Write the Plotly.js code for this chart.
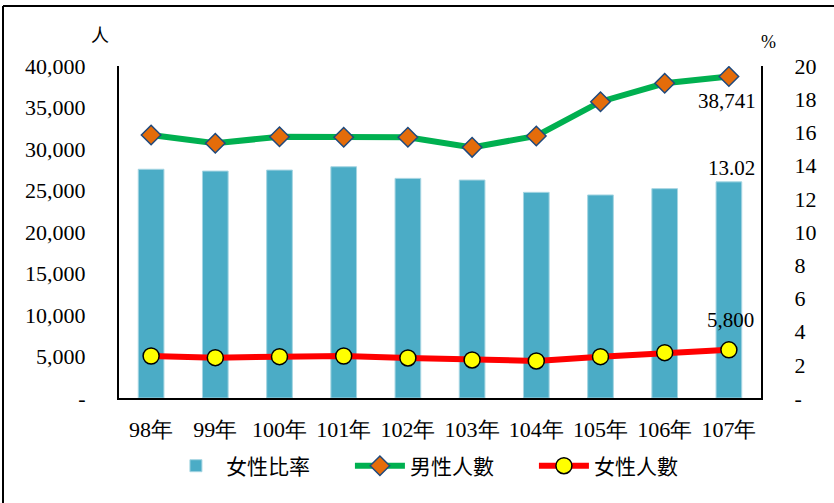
<!DOCTYPE html>
<html>
<head>
<meta charset="utf-8">
<script src="https://cdn.plot.ly/plotly-3.0.1.min.js"></script>
<style>html,body{margin:0;padding:0;background:#fff;}#chart{width:834px;height:503px;}</style>
</head>
<body>
<div id="chart"></div>
<script>
const years = ["98年","99年","100年","101年","102年","103年","104年","105年","106年","107年"];
const femaleRatio = [13.78, 13.67, 13.73, 13.93, 13.23, 13.13, 12.39, 12.23, 12.61, 13.02];
const maleCount = [31690, 30690, 31480, 31410, 31410, 30200, 31570, 35700, 37920, 38741];
const femaleCount = [5060, 4860, 4980, 5060, 4820, 4580, 4460, 4980, 5460, 5800];
const leftTickVals = [0, 5000, 10000, 15000, 20000, 25000, 30000, 35000, 40000];
const leftTickText = ["-", "5,000", "10,000", "15,000", "20,000", "25,000", "30,000", "35,000", "40,000"];
const rightTickVals = [0, 2, 4, 6, 8, 10, 12, 14, 16, 18, 20];
const rightTickText = ["-", "2", "4", "6", "8", "10", "12", "14", "16", "18", "20"];

const serif = "Liberation Serif";
const cjk = "Noto Sans CJK TC";
const last = years.length - 1;
const fmtInt = v => v.toLocaleString("en-US");

const traces = [
  {
    type: "bar", name: "女性比率", x: years, y: femaleRatio, yaxis: "y",
    marker: {color: "#4BACC6", line: {color: "#A5D5E2", width: 1}},
    hoverinfo: "skip"
  },
  {
    type: "scatter", mode: "lines+markers", name: "男性人數", x: years, y: maleCount, yaxis: "y2",
    line: {color: "#00B050", width: 6},
    marker: {symbol: "diamond", size: 15, color: "#E46C0A", line: {color: "#1F497D", width: 1.5}},
    hoverinfo: "skip"
  },
  {
    type: "scatter", mode: "lines+markers", name: "女性人數", x: years, y: femaleCount, yaxis: "y2",
    line: {color: "#FF0000", width: 6},
    marker: {symbol: "circle", size: 16, color: "#FFFF00", line: {color: "#000", width: 1.5}},
    hoverinfo: "skip"
  }
];

const labelFont = {family: serif, size: 21, color: "#000"};

const layout = {
  width: 834, height: 503,
  margin: {l: 119, r: 73, t: 66, b: 105},
  paper_bgcolor: "#fff", plot_bgcolor: "#fff",
  showlegend: true,
  bargap: 0.6,
  font: {family: serif, size: 21, color: "#000"},
  xaxis: {
    type: "category", range: [-0.5, years.length - 0.5], autorange: false,
    showgrid: false, zeroline: false, automargin: false,
    showline: true, linecolor: "#000", linewidth: 2,
    ticks: "", ticklabelstandoff: 11,
    tickfont: {family: serif, size: 22, color: "#000"}
  },
  yaxis: {
    side: "right", range: [0, 20], autorange: false, showgrid: false, zeroline: false, automargin: false,
    showline: true, linecolor: "#000", linewidth: 2,
    tickvals: rightTickVals, ticktext: rightTickText, ticks: "",
    ticklabelstandoff: 27,
    tickfont: {family: serif, size: 22, color: "#000"}
  },
  yaxis2: {
    side: "left", overlaying: "y", range: [0, 40000], autorange: false, showgrid: false, zeroline: false, automargin: false,
    showline: true, linecolor: "#000", linewidth: 2,
    tickvals: leftTickVals, ticktext: leftTickText, ticks: "",
    ticklabelstandoff: 27,
    tickfont: {family: serif, size: 22, color: "#000"}
  },
  legend: {
    orientation: "h", x: 0.503, xanchor: "center", y: -0.205, yanchor: "middle",
    font: {family: cjk, size: 21, color: "#000"},
    traceorder: "normal", entrywidth: 119, itemwidth: 50
  },
  annotations: [
    {text: "人", xref: "paper", yref: "paper", x: (100-119)/642, y: (398-34)/332, showarrow: false,
     xanchor: "center", yanchor: "middle", font: {family: cjk, size: 18, color: "#000"}},
    {text: "%", xref: "paper", yref: "paper", x: (768-119)/642, y: (398-42)/332, showarrow: false,
     xanchor: "center", yanchor: "middle", font: {family: serif, size: 18, color: "#000"}},
    {text: fmtInt(maleCount[last]), xref: "x", yref: "y2", x: years[last], y: maleCount[last],
     showarrow: false, xanchor: "center", yanchor: "middle", xshift: -2, yshift: -25, font: labelFont},
    {text: femaleRatio[last].toFixed(2), xref: "x", yref: "y", x: years[last], y: femaleRatio[last],
     showarrow: false, xanchor: "center", yanchor: "middle", xshift: 3, yshift: 14, font: labelFont},
    {text: fmtInt(femaleCount[last]), xref: "x", yref: "y2", x: years[last], y: femaleCount[last],
     showarrow: false, xanchor: "center", yanchor: "middle", xshift: 2, yshift: 30, font: labelFont}
  ],
  shapes: [
    {type: "line", xref: "paper", yref: "paper", x0: (3-119)/642, x1: (834-119)/642, y0: (398-6)/332, y1: (398-6)/332,
     line: {color: "#000", width: 2}},
    {type: "line", xref: "paper", yref: "paper", x0: (3-119)/642, x1: (3-119)/642, y0: (398-6)/332, y1: (398-503)/332,
     line: {color: "#000", width: 2}}
  ]
};

Plotly.newPlot("chart", traces, layout, {displayModeBar: false, staticPlot: true});
</script>
</body>
</html>
